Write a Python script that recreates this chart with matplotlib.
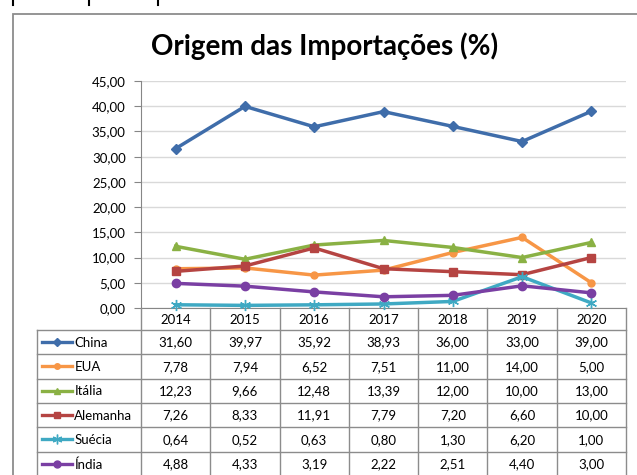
import matplotlib
matplotlib.use("Agg")
import matplotlib.pyplot as plt
from matplotlib.lines import Line2D
from matplotlib.patches import Rectangle

years = ["2014", "2015", "2016", "2017", "2018", "2019", "2020"]
series_names = ["China", "EUA", "Itália", "Alemanha", "Suécia", "Índia"]
china = [31.60, 39.97, 35.92, 38.93, 36.00, 33.00, 39.00]
eua = [7.78, 7.94, 6.52, 7.51, 11.00, 14.00, 5.00]
italia = [12.23, 9.66, 12.48, 13.39, 12.00, 10.00, 13.00]
alemanha = [7.26, 8.33, 11.91, 7.79, 7.20, 6.60, 10.00]
suecia = [0.64, 0.52, 0.63, 0.80, 1.30, 6.20, 1.00]
india = [4.88, 4.33, 3.19, 2.22, 2.51, 4.40, 3.00]
y_ticks = [0, 5, 10, 15, 20, 25, 30, 35, 40, 45]
title = "Origem das Importações (%)"

values = [china, eua, italia, alemanha, suecia, india]
colors = ["#3F6DAA", "#F79646", "#8AB144", "#B54442", "#3FA9C3", "#7A3FA3"]
markers = ["D", "o", "^", "s", (6, 2, 0), "o"]
msizes = [5, 5, 6, 6, 8, 6]

W, H = 637, 475
fig = plt.figure(figsize=(W / 100, H / 100), dpi=100)
fig.patch.set_facecolor("white")

FONT = ["Lato", "DejaVu Sans"]
grid_c = "#D9D9D9"
axis_c = "#868686"
tab_c = "#8C8C8C"

def fx(px):
    return px / W

def fy(py):
    return 1 - py / H

# outer chart border
fig.add_artist(Rectangle((fx(13), fy(478)), fx(640 - 13), fy(14) - fy(478),
                         transform=fig.transFigure, fill=False,
                         edgecolor="#8C8C8C", lw=1.3))
# page artifacts at top
for px in [13, 89, 158]:
    fig.add_artist(Line2D([fx(px), fx(px)], [fy(0), fy(5)],
                          transform=fig.transFigure, color="black", lw=1.5))

fig.text(fx(325), fy(46), title, ha="center", va="center",
         fontsize=20, fontweight="bold", family=FONT, color="black")

# plot area
left, right, top, bottom = 141, 626, 81, 308
ax = fig.add_axes([fx(left), fy(bottom), fx(right - left), fy(top) - fy(bottom)])
ax.set_xlim(-0.5, len(years) - 0.5)
ax.set_ylim(0, 45)
ax.set_yticks(y_ticks)
ax.set_yticklabels([f"{v:.2f}".replace(".", ",") for v in y_ticks],
                   family=FONT, fontsize=9.5)
ax.set_xticks([])
for s in ["top", "right"]:
    ax.spines[s].set_visible(False)
ax.spines["left"].set_color(axis_c)
ax.spines["bottom"].set_color(axis_c)
ax.tick_params(axis="y", length=5, color=axis_c, pad=6)
ax.yaxis.grid(True, color=grid_c, lw=1)
ax.set_axisbelow(True)
ax.set_facecolor("white")

xs = list(range(len(years)))
for vals, c, m, ms in zip(values, colors, markers, msizes):
    ax.plot(xs, vals, color=c, lw=2.5, marker=m, markersize=ms,
            markerfacecolor=c, markeredgecolor=c, clip_on=False, zorder=3)

# data table
tbl_left, tbl_right, tbl_top, tbl_bottom = 37, 626, 308, 476
tab = fig.add_axes([fx(tbl_left), fy(tbl_bottom), fx(tbl_right - tbl_left),
                    fy(tbl_top) - fy(tbl_bottom)])
nrows = len(series_names)
hdr = 0.9
tab.set_xlim(-2.0, len(years) - 0.5)
tab.set_ylim(hdr + nrows, 0)
tab.axis("off")

for i in range(nrows + 1):
    tab.plot([-2.0, len(years) - 0.5], [hdr + i, hdr + i], color=tab_c, lw=1,
             clip_on=False)
tab.plot([-2.0, -2.0], [hdr, hdr + nrows], color=tab_c, lw=1, clip_on=False)
for k in range(len(years) + 1):
    xb = -0.5 + k
    tab.plot([xb, xb], [0, hdr + nrows], color=tab_c, lw=1, clip_on=False)

for j, yr in enumerate(years):
    tab.text(j, hdr / 2 + 0.04, yr, ha="center", va="center",
             family=FONT, fontsize=9.5)

for i, (name, vals, c, m, ms) in enumerate(zip(series_names, values, colors,
                                               markers, msizes)):
    yc = hdr + i + 0.5
    tab.plot([-1.93, -1.49], [yc, yc], color=c, lw=2.4, clip_on=False)
    tab.plot([-1.71], [yc], color=c, marker=m, markersize=ms - 1,
             markerfacecolor=c, markeredgecolor=c, clip_on=False)
    tab.text(-1.46, yc + 0.02, name, ha="left", va="center",
             family=FONT, fontsize=9.5)
    for j, v in enumerate(vals):
        tab.text(j, yc + 0.02, f"{v:.2f}".replace(".", ","), ha="center",
                 va="center", family=FONT, fontsize=9.5)

fig.savefig("out.png", dpi=100)
